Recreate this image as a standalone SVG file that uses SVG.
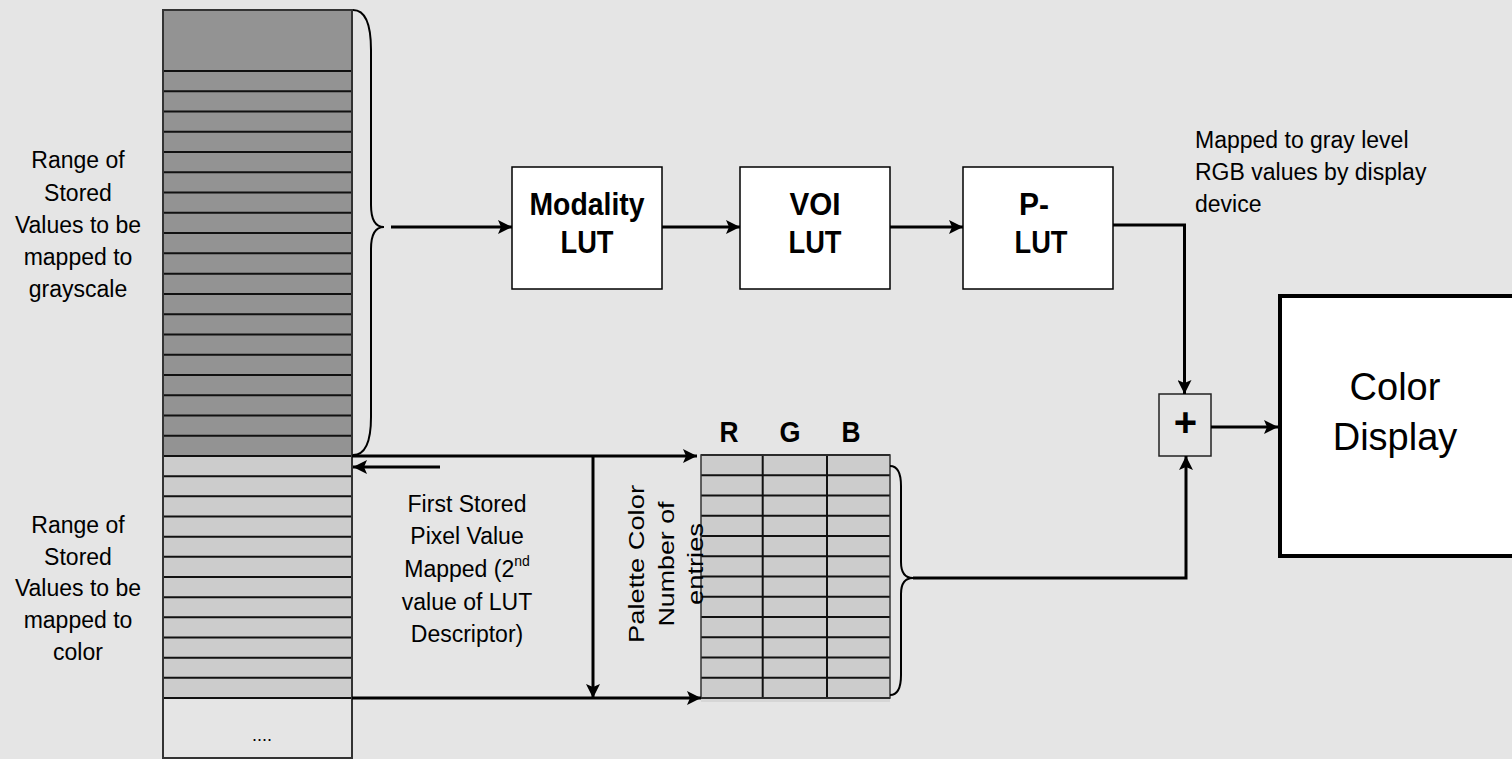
<svg xmlns="http://www.w3.org/2000/svg" width="1512" height="759" viewBox="0 0 1512 759">
<style>
  text { font-family: "Liberation Sans", Arial, sans-serif; fill: #000; }
  .lbl { font-size: 23px; text-anchor: middle; }
  .bold { font-weight: bold; text-anchor: middle; }
  .conn { fill: none; stroke: #000; stroke-width: 3; }
  .arrow { marker-end: url(#ah); }
  .cellline { fill: none; stroke: #111; stroke-width: 2; }
  .brace { fill: none; stroke: #000; stroke-width: 2; }
  .box { fill: #fff; stroke: #000; stroke-width: 1.5; }
</style>
<defs>
  <marker id="ah" viewBox="0 0 14 14" refX="14" refY="7" markerWidth="14" markerHeight="14" markerUnits="userSpaceOnUse" orient="auto">
    <path d="M0,0 L14,7 L0,14 L3,7 z" fill="#000"/>
  </marker>
</defs>
<rect x="0" y="0" width="1512" height="759" fill="#e5e5e5"/>

<g id="stored-values-column">
  <rect x="163" y="10" width="189" height="446" fill="#939393"/>
  <rect x="163" y="456" width="189" height="242" fill="#cccccc"/>
  <rect x="163" y="698" width="189" height="60" fill="#e5e5e5"/>
  <path class="cellline" d="M163,71H352 M163,91.26H352 M163,111.53H352 M163,131.79H352 M163,152.05H352 M163,172.32H352 M163,192.58H352 M163,212.84H352 M163,233.11H352 M163,253.37H352 M163,273.63H352 M163,293.89H352 M163,314.16H352 M163,334.42H352 M163,354.68H352 M163,374.95H352 M163,395.21H352 M163,415.47H352 M163,435.74H352 M163,456H352 M163,476.17H352 M163,496.33H352 M163,516.5H352 M163,536.67H352 M163,556.83H352 M163,577H352 M163,597.17H352 M163,617.33H352 M163,637.5H352 M163,657.67H352 M163,677.83H352 M163,698H352"/>
  <rect x="163" y="10" width="189" height="748" fill="none" stroke="#333" stroke-width="2"/>
  <text x="262" y="741" style="font-size:18px" text-anchor="middle">....</text>
</g>

<g id="label-grayscale">
  <text class="lbl" x="78" y="168">Range of</text>
  <text class="lbl" x="78" y="200.5">Stored</text>
  <text class="lbl" x="78" y="233">Values to be</text>
  <text class="lbl" x="78" y="265">mapped to</text>
  <text class="lbl" x="78" y="297">grayscale</text>
</g>

<g id="label-color">
  <text class="lbl" x="78" y="533">Range of</text>
  <text class="lbl" x="78" y="564.5">Stored</text>
  <text class="lbl" x="78" y="596">Values to be</text>
  <text class="lbl" x="78" y="628">mapped to</text>
  <text class="lbl" x="78" y="660">color</text>
</g>

<g id="brace-grayscale">
  <path class="brace" d="M353,10 Q371,10 371,50 L371,205 Q371,227 384,227 Q371,227 371,249 L371,417 Q371,455 353,455"/>
</g>

<g id="modality-lut">
  <rect class="box" x="512" y="167" width="150" height="122"/>
  <text class="bold" x="587" y="215" style="font-size:32px" textLength="115" lengthAdjust="spacingAndGlyphs">Modality</text>
  <text class="bold" x="587" y="253" style="font-size:32px" textLength="53" lengthAdjust="spacingAndGlyphs">LUT</text>
</g>

<g id="voi-lut">
  <rect class="box" x="740" y="167" width="150" height="122"/>
  <text class="bold" x="815" y="215" style="font-size:32px" textLength="51" lengthAdjust="spacingAndGlyphs">VOI</text>
  <text class="bold" x="815" y="253" style="font-size:32px" textLength="53" lengthAdjust="spacingAndGlyphs">LUT</text>
</g>

<g id="p-lut">
  <rect class="box" x="963" y="167" width="150" height="122"/>
  <text class="bold" x="1034" y="215" style="font-size:32px" textLength="30" lengthAdjust="spacingAndGlyphs">P-</text>
  <text class="bold" x="1041" y="253" style="font-size:32px" textLength="53" lengthAdjust="spacingAndGlyphs">LUT</text>
</g>

<g id="note-gray">
  <text x="1195" y="148" style="font-size:23px">Mapped to gray level</text>
  <text x="1195" y="180" style="font-size:23px">RGB values by display</text>
  <text x="1195" y="212" style="font-size:23px">device</text>
</g>

<g id="first-stored-label">
  <text class="lbl" x="467" y="512">First Stored</text>
  <text class="lbl" x="467" y="544">Pixel Value</text>
  <text class="lbl" x="467" y="577">Mapped (2<tspan style="font-size:14px" dy="-11">nd</tspan></text>
  <text class="lbl" x="467" y="610">value of LUT</text>
  <text class="lbl" x="467" y="642">Descriptor)</text>
</g>

<g id="palette-table">
  <rect x="701" y="455" width="189" height="243" fill="#cccccc"/>
  <rect x="701" y="698" width="189" height="4" fill="#d6d6d6"/>
  <path class="cellline" d="M701,455H890 M701,475.25H890 M701,495.5H890 M701,515.75H890 M701,536H890 M701,556.25H890 M701,576.5H890 M701,596.75H890 M701,617H890 M701,637.25H890 M701,657.5H890 M701,677.75H890 M701,698H890 M762.7,455V698 M827,455V698"/>
  <rect x="701" y="455" width="189" height="243" fill="none" stroke="#333" stroke-width="1.5"/>
  <text class="bold" x="729" y="442" style="font-size:29px" textLength="19" lengthAdjust="spacingAndGlyphs">R</text>
  <text class="bold" x="790" y="442" style="font-size:29px" textLength="21" lengthAdjust="spacingAndGlyphs">G</text>
  <text class="bold" x="851" y="442" style="font-size:29px" textLength="19" lengthAdjust="spacingAndGlyphs">B</text>
</g>

<g id="palette-label">
  <g transform="translate(644,564) rotate(-90)">
    <text class="lbl" x="0" y="0" style="font-size:22px" textLength="158" lengthAdjust="spacingAndGlyphs">Palette Color</text>
    <text class="lbl" x="0" y="29.5" style="font-size:22px" textLength="125" lengthAdjust="spacingAndGlyphs">Number of</text>
    <text class="lbl" x="0" y="59" style="font-size:22px" textLength="82" lengthAdjust="spacingAndGlyphs">entries</text>
  </g>
</g>

<g id="brace-palette">
  <path class="brace" d="M890,466 Q901,466 901,486 L901,562 Q901,578 913,578 Q901,578 901,594 L901,675 Q901,695 890,695"/>
</g>

<g id="plus">
  <rect x="1159" y="394" width="52" height="62" fill="#e5e5e5" stroke="#222" stroke-width="1.5"/>
  <text x="1185.5" y="436" style="font-size:40px;font-weight:bold" text-anchor="middle">+</text>
</g>

<g id="color-display">
  <rect x="1280" y="296" width="260" height="260" fill="#fff" stroke="#000" stroke-width="4"/>
  <text x="1395" y="400" style="font-size:38px" text-anchor="middle">Color</text>
  <text x="1395" y="450" style="font-size:38px" text-anchor="middle">Display</text>
</g>

<g id="connectors">
  <path class="conn arrow" d="M391,227 H512"/>
  <path class="conn arrow" d="M662,227 H740"/>
  <path class="conn arrow" d="M890,227 H963"/>
  <path class="conn arrow" d="M1113,225 H1184.5 V394"/>
  <path class="conn arrow" d="M1211,427 H1278"/>
  <path class="conn arrow" d="M913,578 H1186 V456"/>
  <path class="conn arrow" d="M352,456 H697"/>
  <path class="conn arrow" d="M593,456 V698"/>
  <path class="conn arrow" d="M352,698 H701"/>
  <path class="conn arrow" d="M440,467 H353"/>
</g>
</svg>
